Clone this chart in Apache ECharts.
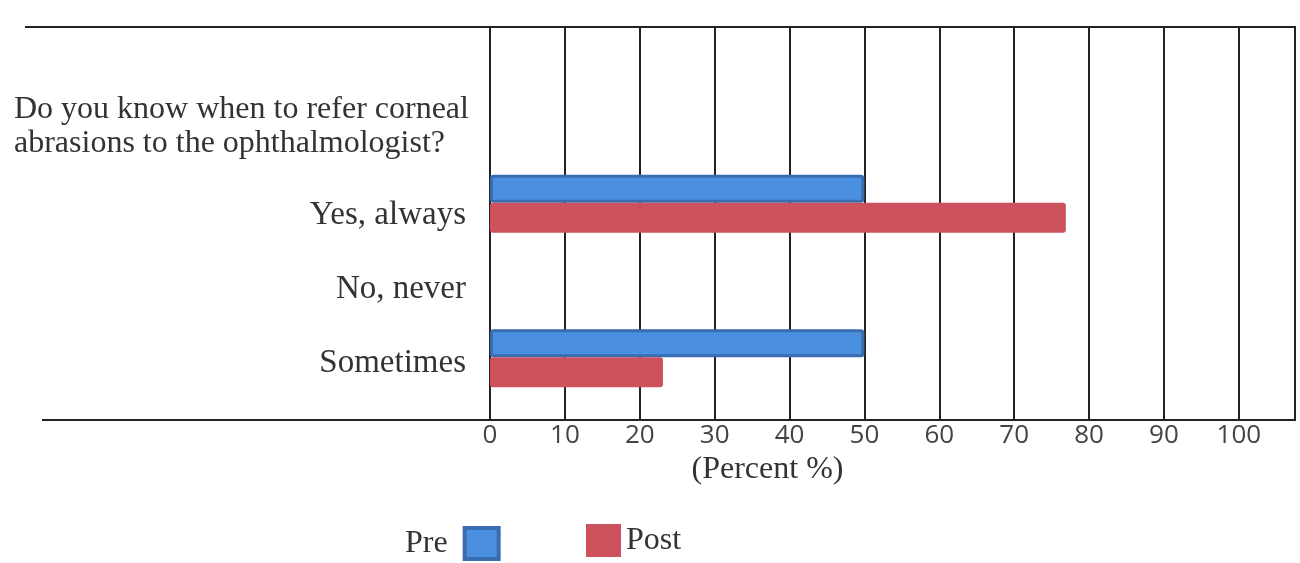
<!DOCTYPE html>
<html>
<head>
<meta charset="utf-8">
<title>Corneal abrasion referral: Pre vs Post</title>
<script src="https://cdn.jsdelivr.net/npm/echarts@6/dist/echarts.min.js"></script>
<style>
  html, body { margin: 0; padding: 0; background: #ffffff; }
  #chart { width: 1300px; height: 563px; }
</style>
</head>
<body>
<div id="chart"></div>
<script>
// Survey question and answer options
const question = 'Do you know when to refer corneal\nabrasions to the ophthalmologist?';
const categories = ['Yes, always', 'No, never', 'Sometimes'];

// Share of respondents (%) per answer
const preValues = [50, 0, 50];
const postValues = [76.9, 0, 23.1];

// Percent scale ticks
const tickMin = 0;
const tickMax = 100;
const tickStep = 10;

const serif = '"Liberation Serif", "Times New Roman", serif';
const sans = '"Open Sans", "Liberation Sans", sans-serif';
const ink = '#333333';
const axisMax = 107.5; // extra space past 100 up to the right frame edge

// empty answers get no outline so nothing is drawn for them
const asBarData = vals => vals.map(v => (v === 0 ? { value: v, itemStyle: { borderWidth: 0 } } : v));

const chart = echarts.init(document.getElementById('chart'), null, { renderer: 'canvas' });

chart.setOption({
  backgroundColor: '#ffffff',
  animation: false,
  title: {
    text: question,
    left: 9,
    top: 88,
    textStyle: { fontFamily: serif, fontSize: 32, fontWeight: 'normal', color: ink, lineHeight: 34 }
  },
  legend: [
    {
      data: ['Pre'],
      left: 400,
      top: 521,
      align: 'right',
      icon: 'rect',
      itemWidth: 34,
      itemHeight: 31,
      itemGap: 0,
      itemStyle: { borderWidth: 4, borderColor: '#3a6cb0' },
      textStyle: { fontFamily: serif, fontSize: 32, color: ink, padding: [0, 12, 4, 0] }
    },
    {
      data: ['Post'],
      left: 581,
      top: 519,
      align: 'left',
      icon: 'rect',
      itemWidth: 35,
      itemHeight: 33,
      textStyle: { fontFamily: serif, fontSize: 32, color: ink, padding: [0, 0, 8, 0] }
    }
  ],
  grid: [
    // frame with the percent scale and its vertical gridlines
    { left: 490, right: 5, top: 27, bottom: 143, containLabel: false },
    // band holding the answer bars
    { left: 490, right: 5, top: 165, bottom: 166, containLabel: false },
    // band carrying the answer labels
    { left: 490, right: 5, top: 178, bottom: 163, containLabel: false }
  ],
  xAxis: [
    {
      gridIndex: 0,
      type: 'value',
      min: tickMin,
      max: axisMax,
      interval: tickStep,
      name: '(Percent %)',
      nameLocation: 'middle',
      nameGap: 33,
      nameTextStyle: { fontFamily: serif, fontSize: 32, color: ink, padding: [0, 250, 0, 0] },
      axisLine: { show: true, lineStyle: { color: '#222', width: 2 } },
      axisTick: { show: false },
      axisLabel: {
        margin: 3,
        fontFamily: sans,
        fontSize: 26,
        color: '#444',
        showMaxLabel: false,
        formatter: v => (v <= tickMax ? String(v) : '')
      },
      splitLine: { show: true, lineStyle: { color: '#222', width: 2 } }
    },
    { gridIndex: 1, type: 'value', min: tickMin, max: axisMax, show: false },
    { gridIndex: 2, type: 'value', min: tickMin, max: axisMax, show: false }
  ],
  yAxis: [
    {
      gridIndex: 0,
      type: 'category',
      data: [''],
      axisLine: { show: true, lineStyle: { color: '#222', width: 2 } },
      axisTick: { show: false },
      axisLabel: { show: false },
      splitLine: { show: false }
    },
    {
      gridIndex: 1,
      type: 'category',
      data: categories,
      inverse: true,
      axisLine: { show: false },
      axisTick: { show: false },
      axisLabel: { show: false },
      splitLine: { show: false }
    },
    {
      gridIndex: 2,
      type: 'category',
      data: categories,
      inverse: true,
      axisLine: { show: false },
      axisTick: { show: false },
      axisLabel: { margin: 24, fontFamily: serif, fontSize: 33, color: ink },
      splitLine: { show: false }
    }
  ],
  graphic: [
    // top rule of the frame, running across the label column
    { type: 'line', shape: { x1: 25, y1: 27, x2: 1296, y2: 27 }, style: { stroke: '#222', lineWidth: 2 } },
    // bottom rule of the frame
    { type: 'line', shape: { x1: 42, y1: 420, x2: 1296, y2: 420 }, style: { stroke: '#222', lineWidth: 2 } }
  ],
  series: [
    {
      name: 'Pre',
      type: 'bar',
      xAxisIndex: 1,
      yAxisIndex: 1,
      data: asBarData(preValues),
      barWidth: 28,
      barGap: '0%',
      itemStyle: { color: '#4b8fe0', borderColor: '#3a6cb0', borderWidth: 3, borderRadius: 2 }
    },
    {
      name: 'Post',
      type: 'bar',
      xAxisIndex: 1,
      yAxisIndex: 1,
      data: asBarData(postValues),
      barWidth: 30,
      barGap: '0%',
      itemStyle: { color: '#cc525e', borderRadius: 3 }
    }
  ]
});
</script>
</body>
</html>
